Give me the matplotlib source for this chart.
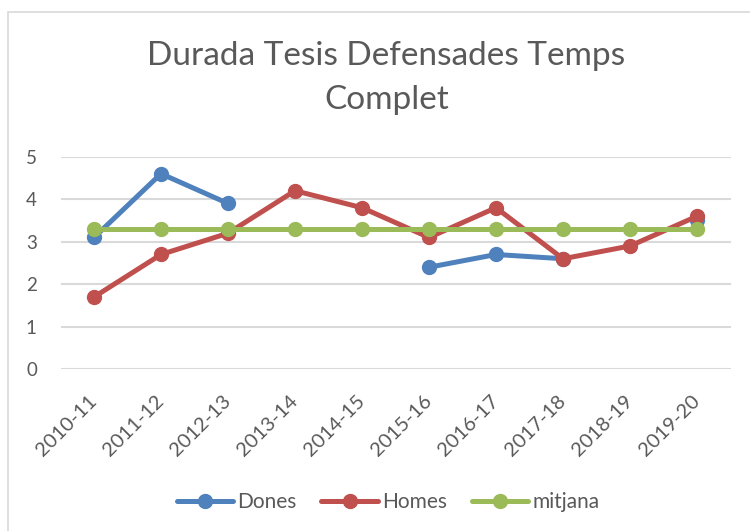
import numpy as np
import matplotlib
matplotlib.use("Agg")
import matplotlib.pyplot as plt
from matplotlib.patches import Rectangle

# data
cursos = ["2010-11", "2011-12", "2012-13", "2013-14", "2014-15",
          "2015-16", "2016-17", "2017-18", "2018-19", "2019-20"]
dones = [3.1, 4.6, 3.9, np.nan, np.nan, 2.4, 2.7, 2.6, np.nan, 3.5]
homes = [1.7, 2.7, 3.2, 4.2, 3.8, 3.1, 3.8, 2.6, 2.9, 3.6]
mitjana = [3.3] * 10

plt.rcParams['font.family'] = ['Lato', 'DejaVu Sans']
grey = '#595959'

fig = plt.figure(figsize=(7.5, 5.31), dpi=100)
# chart border (Excel chart area)
fig.patches.append(Rectangle((8 / 750, -0.1), 1.2, 1 - 12 / 531 + 0.1,
                             transform=fig.transFigure, fill=False,
                             edgecolor='#D9D9D9', lw=1.2))

ax = fig.add_axes([60.5 / 750, 1 - 369.3 / 531, 670 / 750, 212.6 / 531])
x = np.arange(len(cursos))
ax.plot(x, dones, color='#4F81BD', lw=3.6, marker='o', ms=10, label='Dones',
        solid_capstyle='round')
ax.plot(x, homes, color='#C0504D', lw=3.6, marker='o', ms=10, label='Homes',
        solid_capstyle='round')
ax.plot(x, mitjana, color='#9BBB59', lw=3.6, marker='o', ms=10, label='mitjana',
        solid_capstyle='round')

ax.set_xlim(-0.5, len(cursos) - 0.5)
ax.set_ylim(0, 5)
ax.set_yticks(range(6))
ax.set_xticks(x)
ax.set_xticklabels(cursos, rotation=45, ha='right', va='center',
                   rotation_mode='anchor')
ax.yaxis.grid(True, color='#D9D9D9', lw=1.5)
ax.set_axisbelow(True)
for s in ax.spines.values():
    s.set_visible(False)
ax.tick_params(length=0, colors=grey)
ax.tick_params(axis='y', pad=17, labelsize=13.5)
ax.tick_params(axis='x', pad=21, labelsize=14.5)

fig.text(0.515, 1 - 56 / 531, 'Durada Tesis Defensades Temps', ha='center',
         va='center', fontsize=24, color=grey)
fig.text(0.515, 1 - 100 / 531, 'Complet', ha='center', va='center',
         fontsize=24, color=grey)

fig.legend(loc='center', bbox_to_anchor=(388 / 750, 1 - 502 / 531), ncol=3,
           frameon=False, fontsize=15, handlelength=2.7, handletextpad=0.2,
           columnspacing=1.2, labelcolor=grey)

fig.savefig('out.png', dpi=100)
